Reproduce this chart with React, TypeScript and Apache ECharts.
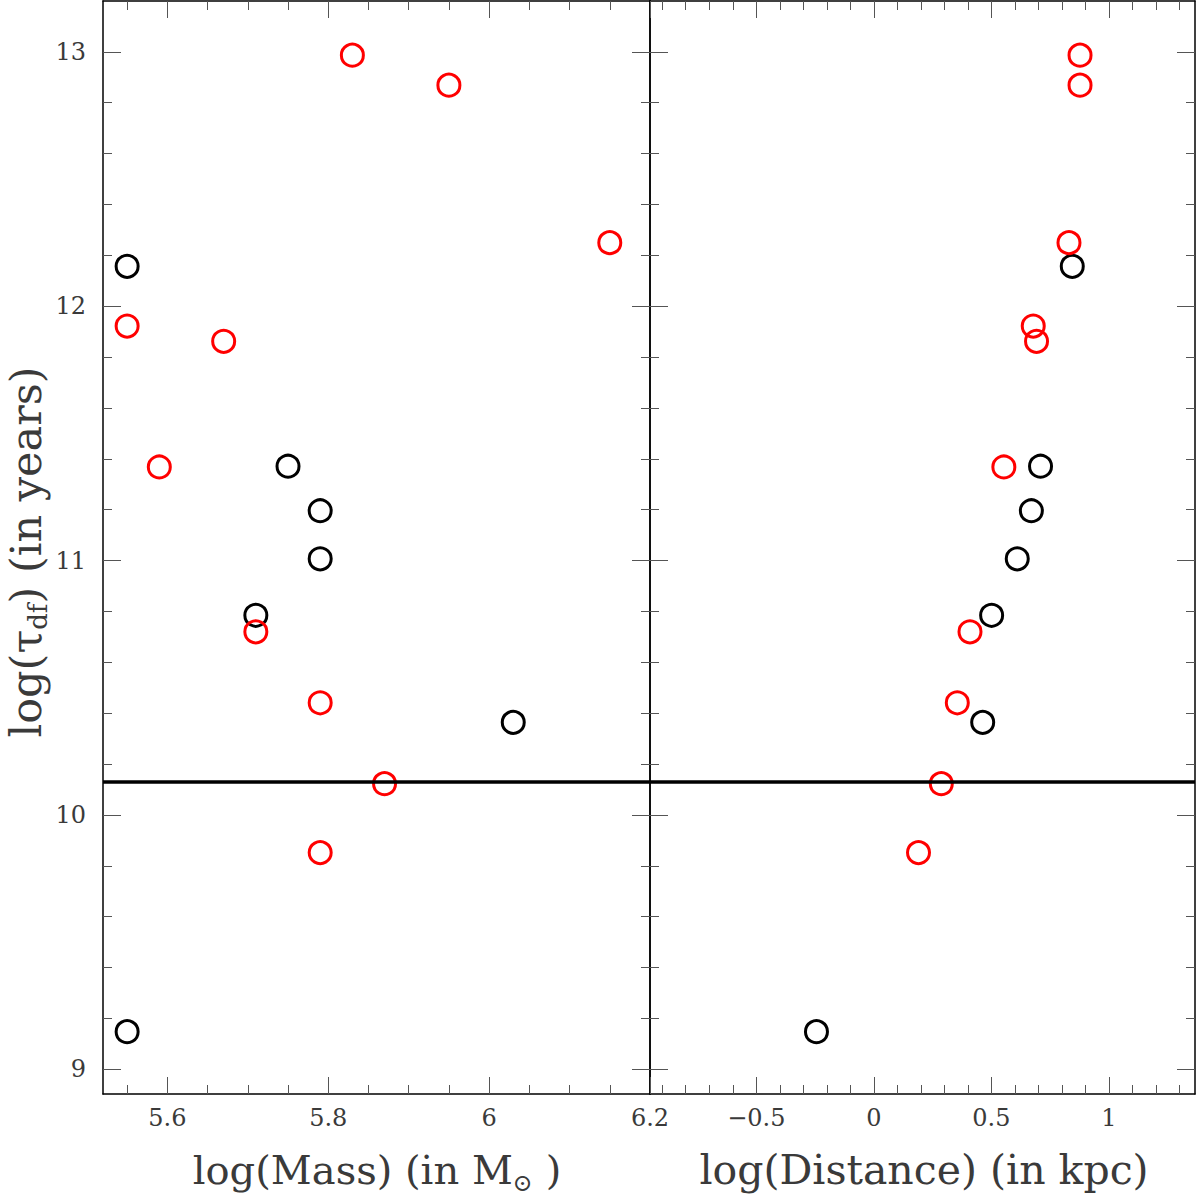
import React, { useEffect, useRef } from "react";
import * as echarts from "echarts";

// ---- data ----
const redMass = [5.83, 5.95, 6.15, 5.55, 5.67, 5.59, 5.71, 5.79, 5.87, 5.79];
const redDist = [0.877, 0.877, 0.83, 0.678, 0.692, 0.553, 0.409, 0.355, 0.287, 0.19];
const redTau = [12.987, 12.869, 12.25, 11.922, 11.862, 11.368, 10.72, 10.441, 10.123, 9.852];

const blackMass = [5.55, 5.75, 5.79, 5.79, 5.71, 6.03, 5.55];
const blackDist = [0.844, 0.709, 0.67, 0.61, 0.501, 0.463, -0.244];
const blackTau = [12.157, 11.371, 11.196, 11.007, 10.785, 10.364, 9.148];

const thresholdTau = 10.134;

// ---- axes ----
const massRange = [5.52, 6.2];
const distRange = [-0.952, 1.366];
const tauRange = [8.903, 13.2];

const massMajorTicks = [5.6, 5.8, 6.0, 6.2];
const massMinorTicks = [5.55, 5.65, 5.7, 5.75, 5.85, 5.9, 5.95, 6.05, 6.1, 6.15];
const distMajorTicks = [-0.5, 0, 0.5, 1];
const distMinorTicks = [-0.9, -0.8, -0.7, -0.6, -0.4, -0.3, -0.2, -0.1, 0.1, 0.2, 0.3, 0.4, 0.6, 0.7, 0.8, 0.9, 1.1, 1.2, 1.3];
const tauMajorTicks = [9, 10, 11, 12, 13];
const tauMinorTicks = [9.2, 9.4, 9.6, 9.8, 10.2, 10.4, 10.6, 10.8, 11.2, 11.4, 11.6, 11.8, 12.2, 12.4, 12.6, 12.8];

const FONT = "DejaVu Serif";
const TICK_COLOR = "#555";
const LABEL_COLOR = "#3a3a3a";

const fmtMinus = (v: number) => (v < 0 ? "\u2212" + String(Math.abs(v)) : String(v));

function axisSet(
  kind: "x" | "y",
  gridIndex: number,
  range: number[],
  major: number[],
  minor: number[],
  labelSide: boolean,
  fmt: (v: number) => string
) {
  const pos = kind === "x" ? ["bottom", "top"] : ["left", "right"];
  const majorLen = kind === "x" ? 17 : 18;
  const minorLen = 9;
  const base = {
    type: "value",
    gridIndex,
    min: range[0],
    max: range[1],
    splitLine: { show: false },
    axisPointer: { show: false },
  };
  const line = { show: true, onZero: false, lineStyle: { color: "#000", width: 1.5 } };
  const noLine = { show: false, onZero: false };
  const tick = (vals: number[], len: number) => ({
    show: true,
    inside: true,
    length: len,
    customValues: vals,
    lineStyle: { color: TICK_COLOR, width: 1 },
  });
  const label = {
    show: true,
    customValues: major,
    formatter: fmt,
    margin: kind === "x" ? 12 : 17,
    fontSize: 24,
    fontFamily: FONT,
    color: LABEL_COLOR,
  };
  return [
    { ...base, position: pos[0], axisLine: line, axisTick: tick(major, majorLen), axisLabel: labelSide ? label : { show: false } },
    { ...base, position: pos[0], axisLine: noLine, axisTick: tick(minor, minorLen), axisLabel: { show: false } },
    { ...base, position: pos[1], axisLine: line, axisTick: tick(major, majorLen), axisLabel: { show: false } },
    { ...base, position: pos[1], axisLine: noLine, axisTick: tick(minor, minorLen), axisLabel: { show: false } },
  ];
}

function circles(xs: number[], ys: number[], color: string, xi: number, yi: number, z: number) {
  return {
    type: "scatter",
    xAxisIndex: xi,
    yAxisIndex: yi,
    data: xs.map((x, i) => [x, ys[i]]),
    symbol: "circle",
    symbolSize: 22,
    itemStyle: { color: "rgba(0,0,0,0)", borderColor: color, borderWidth: 3, opacity: 1 },
    z,
    silent: true,
  };
}

const thresholdLine = {
  silent: true,
  symbol: ["none", "none"],
  label: { show: false },
  lineStyle: { color: "#000", width: 3.5, type: "solid" },
  data: [{ yAxis: thresholdTau }],
};

export default function App() {
  const ref = useRef<HTMLDivElement>(null);
  useEffect(() => {
    if (!ref.current) return;
    const chart = echarts.init(ref.current, undefined, { renderer: "svg" });
    const titleRich = (fs: number, sub: number) => ({
      a: { fontSize: fs, fontFamily: FONT, fill: LABEL_COLOR, lineHeight: 50 },
      b: { fontSize: sub, fontFamily: FONT, fill: LABEL_COLOR, lineHeight: sub, verticalAlign: "bottom" },
    });
    const option: any = {
      animation: false,
      backgroundColor: "#fff",
      grid: [
        { left: 103, top: 1, width: 547, height: 1093, outerBoundsMode: "none" },
        { left: 650, top: 1, width: 545, height: 1093, outerBoundsMode: "none" },
      ],
      xAxis: [
        ...axisSet("x", 0, massRange, massMajorTicks, massMinorTicks, true, (v) => String(v)),
        ...axisSet("x", 1, distRange, distMajorTicks, distMinorTicks, true, fmtMinus),
      ],
      yAxis: [
        ...axisSet("y", 0, tauRange, tauMajorTicks, tauMinorTicks, true, (v) => String(v)),
        ...axisSet("y", 1, tauRange, tauMajorTicks, tauMinorTicks, false, (v) => String(v)),
      ],
      series: [
        { ...circles(blackMass, blackTau, "#000", 0, 0, 2), markLine: thresholdLine },
        circles(redMass, redTau, "#ff0000", 0, 0, 3),
        { ...circles(blackDist, blackTau, "#000", 4, 4, 2), markLine: thresholdLine },
        circles(redDist, redTau, "#ff0000", 4, 4, 3),
      ],
      graphic: [
        {
          type: "text",
          x: 26,
          y: 552,
          rotation: Math.PI / 2,
          style: {
            text: "{a|log(τ}{b|df}{a|) (in years)}",
            rich: titleRich(43, 26),
            align: "center",
            verticalAlign: "middle",
          },
        },
        {
          type: "text",
          x: 377,
          y: 1170,
          style: {
            text: "{a|log(Mass) (in M}{b|⊙}{a| )}",
            rich: titleRich(40, 24),
            align: "center",
            verticalAlign: "middle",
          },
        },
        {
          type: "text",
          x: 924,
          y: 1170,
          style: {
            text: "{a|log(Distance) (in kpc)}",
            rich: titleRich(41, 24),
            align: "center",
            verticalAlign: "middle",
          },
        },
      ],
    };
    chart.setOption(option);
    return () => chart.dispose();
  }, []);
  return (
    <div
      ref={ref}
      style={{ position: "absolute", left: 0, top: 0, width: 1196, height: 1196 }}
    />
  );
}
